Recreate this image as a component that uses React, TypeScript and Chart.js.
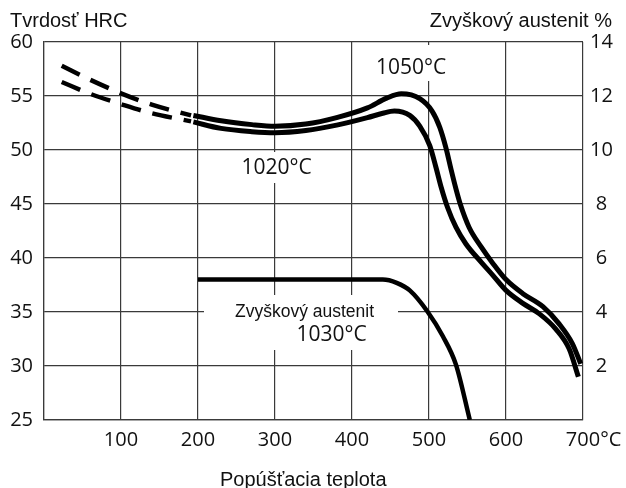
import { useEffect, useRef } from 'react';
import { Chart, registerables } from 'chart.js';

Chart.register(...registerables);

// Temperature ticks (°C)
const xMin = 0;
const xMax = 700;
const xStep = 100;

// Hardness axis (HRC)
const hrcMin = 25;
const hrcMax = 60;
const hrcStep = 5;

// Retained austenite axis (%)
const austMin = 0;
const austMax = 14;
const austStep = 2;

// 1050 °C hardening – dashed (extrapolated) part
const dash1050X = [23, 60, 100, 140, 191];
const dash1050Y = [57.8, 56.5, 55.25, 54.2, 53.2];
// 1020 °C hardening – dashed part
const dash1020X = [23, 60, 100, 140, 191];
const dash1020Y = [56.3, 55.2, 54.25, 53.4, 52.65];

// 1050 °C hardening – measured part
const hrc1050X = [194, 230, 270, 300, 340, 380, 420, 445, 464, 488, 504, 514, 522, 529, 535, 541, 552, 568, 583, 600, 622, 648, 669, 686, 697];
const hrc1050Y = [53.2, 52.7, 52.35, 52.2, 52.4, 53.0, 53.9, 54.8, 55.2, 54.75, 53.6, 52.1, 50.2, 48.1, 46.4, 44.9, 42.85, 41.0, 39.5, 38.0, 36.7, 35.5, 33.9, 32.1, 30.2];

// 1020 °C hardening – measured part
const hrc1020X = [194, 230, 270, 300, 340, 380, 420, 440, 455, 475, 488, 501, 509, 516, 524, 535, 548, 568, 583, 600, 622, 643, 665, 682, 694];
const hrc1020Y = [52.6, 52.0, 51.7, 51.6, 51.8, 52.3, 53.0, 53.4, 53.6, 53.2, 52.2, 50.4, 48.4, 46.5, 44.7, 42.85, 41.3, 39.6, 38.4, 37.0, 35.8, 34.85, 33.4, 31.6, 29.0];

// Retained austenite, 1030 °C (right axis, %)
const austX = [200, 300, 400, 440, 458, 475, 498, 518, 535, 553];
const austY = [5.2, 5.2, 5.2, 5.2, 5.08, 4.8, 4.02, 3.1, 2.05, 0];

const toPts = (xs: number[], ys: number[]) => xs.map((x, i) => ({ x, y: ys[i] }));

const TICK_FONT = { family: '"Open Sans", sans-serif', size: 20 };
const GRID = '#3a3a3a';

export default function App() {
  const ref = useRef<HTMLCanvasElement | null>(null);

  useEffect(() => {
    if (!ref.current) return;

    const overlay = {
      id: 'overlay',
      beforeDatasetsDraw(chart: any) {
        const ctx = chart.ctx;
        ctx.save();
        ctx.fillStyle = '#ffffff';
        // gaps in the grid behind the labels
        ctx.fillRect(236, 152, 80, 31);
        ctx.fillRect(372, 45, 78, 36);
        ctx.fillRect(204, 295, 194, 55);
        ctx.restore();
      },
      afterDraw(chart: any) {
        const ctx = chart.ctx;
        const xs = chart.scales.x;
        ctx.save();
        ctx.fillStyle = '#111';
        ctx.textBaseline = 'alphabetic';
        ctx.font = '20px "Liberation Sans", Arial, sans-serif';
        ctx.textAlign = 'left';
        ctx.fillText('Tvrdosť HRC', 10, 27);
        ctx.textAlign = 'right';
        ctx.fillText('Zvyškový austenit %', 612, 27);
        ctx.textAlign = 'left';
        ctx.fillText('Popúšťacia teplota', 220, 486);

        ctx.font = '17.5px "Liberation Sans", Arial, sans-serif';
        ctx.fillText('Zvyškový austenit', 235, 317);

        ctx.font = '21px "Open Sans", sans-serif';
        ctx.textAlign = 'center';
        ctx.textBaseline = 'middle';
        ctx.fillText('1020°C', 276.5, 168);
        ctx.fillText('1050°C', 411, 68.5);
        ctx.fillText('1030°C', 331.5, 335);

        // unit after the last x tick
        ctx.font = '20px "Open Sans", sans-serif';
        const w = ctx.measureText('700').width;
        ctx.textAlign = 'left';
        ctx.fillText('°C', xs.getPixelForValue(700) + w / 2, xs.top + 8 + 12);
        ctx.restore();
      },
    };

    const solid = (xs: number[], ys: number[], axis: string, width: number) => ({
      data: toPts(xs, ys),
      borderColor: '#000',
      borderWidth: width,
      pointRadius: 0,
      cubicInterpolationMode: 'monotone',
      yAxisID: axis,
    });

    const chart = new Chart(ref.current, {
      type: 'line',
      data: {
        datasets: [
          { ...solid(dash1050X, dash1050Y, 'y', 4.5), borderDash: [20, 12] },
          { ...solid(dash1020X, dash1020Y, 'y', 4.5), borderDash: [20, 12] },
          solid(hrc1050X, hrc1050Y, 'y', 5),
          solid(hrc1020X, hrc1020Y, 'y', 5),
          solid(austX, austY, 'y2', 4.5),
        ],
      },
      options: {
        animation: false,
        responsive: false,
        maintainAspectRatio: false,
        layout: { padding: { top: 42, left: 0, right: 0, bottom: 0 } },
        plugins: { legend: { display: false }, tooltip: { enabled: false } },
        scales: {
          x: {
            type: 'linear',
            min: xMin,
            max: xMax,
            afterFit: (s: any) => { s.height = 68; },
            grid: { color: GRID, lineWidth: 1.2, drawTicks: false },
            border: { color: GRID, width: 1.2 },
            ticks: {
              stepSize: xStep,
              color: '#111',
              font: TICK_FONT,
              padding: 8,
              maxRotation: 0,
              autoSkip: false,
              callback: (v: any) => (v === 0 ? '' : String(v)),
            },
          },
          y: {
            type: 'linear',
            position: 'left',
            min: hrcMin,
            max: hrcMax,
            afterFit: (s: any) => { s.width = 44; },
            grid: { color: GRID, lineWidth: 1.2, drawTicks: false },
            border: { color: GRID, width: 1.2 },
            ticks: {
              stepSize: hrcStep,
              color: '#111',
              font: TICK_FONT,
              padding: 11,
            },
          },
          y2: {
            type: 'linear',
            position: 'right',
            min: austMin,
            max: austMax,
            afterFit: (s: any) => { s.width = 43; },
            grid: { display: false, drawTicks: false },
            border: { display: false },
            ticks: {
              stepSize: austStep,
              color: '#111',
              font: TICK_FONT,
              padding: 7,
              crossAlign: 'center',
              callback: (v: any) => (v === 0 ? '' : String(v)),
            },
          },
        },
      },
      plugins: [overlay],
    } as any);

    return () => chart.destroy();
  }, []);

  return (
    <div style={{ position: 'absolute', left: 0, top: 0, width: 626, height: 488, background: '#fff' }}>
      <canvas ref={ref} width={626} height={488} style={{ width: 626, height: 488, display: 'block' }} />
    </div>
  );
}
